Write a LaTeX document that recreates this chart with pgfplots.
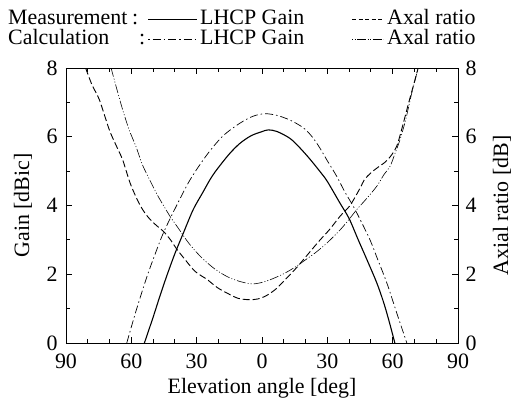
\documentclass[border=0pt]{standalone}
\usepackage{pgfplots}
\pgfplotsset{compat=1.18}
\usepackage{fontspec}
\setmainfont{Liberation Serif}
\newcommand{\bigf}{\fontsize{22}{25}\selectfont}
\begin{document}
\begin{tikzpicture}
\useasboundingbox (-66bp,-62bp) rectangle (459bp,343bp);
\pgfplotsset{
  common/.style={
    scale only axis, width=392bp, height=275bp,
    at={(0,0)}, anchor=south west,
    xmin=-90, xmax=90, ymin=0, ymax=8,
    tick align=inside,
    major tick length=6bp, minor tick length=4bp,
    every tick/.style={black, line width=0.8pt},
    axis line style={line width=1pt},
    tick label style={font=\bigf},
    label style={font=\bigf},
    /pgf/number format/assume math mode=true,
    ytick={0,2,4,6,8}, minor ytick={1,3,5,7},
  }
}
\begin{axis}[common,
  xtick={-90,-60,-30,0,30,60,90},
  xticklabels={90,60,30,0,30,60,90},
  minor xtick={-80,-70,-50,-40,-20,-10,10,20,40,50,70,80},
  xtick pos=both, ytick pos=left,
  xlabel={Elevation angle [deg]},
  ylabel={Gain [dBic]},
  xticklabel style={yshift=-7bp},
  yticklabel style={xshift=-5bp},
  xlabel style={yshift=-3bp},
  ylabel style={at={(rel axis cs:-0.11,0.5)}, anchor=center},
]
% Measurement LHCP gain
\addplot[black, line width=1.1pt, smooth] coordinates {
(-54,0) (-50,0.75) (-46.9,1.36) (-43.8,1.94) (-40,2.6) (-36.1,3.2) (-31.6,3.88) (-27,4.4) (-23.9,4.75) (-20.8,5.04) (-15,5.5) (-10.1,5.81) (-5,6.03) (0,6.15) (3,6.2) (7,6.15) (12.9,5.95) (17.5,5.67) (22,5.35) (26.6,4.99) (30,4.7) (35.8,4.07) (40,3.62) (44.2,3.0) (48,2.45) (52.7,1.75) (56,1.15) (58.5,0.6) (61,0)
};
% Calculation LHCP gain
\addplot[black, line width=0.7pt, smooth, dash pattern=on 8bp off 3bp on 1.5bp off 3bp] coordinates {
(-62.1,0) (-58,0.9) (-53,1.9) (-49,2.6) (-45.3,3.2) (-40,3.9) (-33,4.75) (-25,5.5) (-17.8,6.03) (-10,6.4) (-4,6.6) (1.4,6.67) (7,6.62) (13,6.48) (19,6.26) (23,6.0) (26.6,5.67) (30,5.3) (34.3,4.85) (38,4.4) (41.9,3.98) (45,3.6) (49.6,3.0) (53,2.45) (57.3,1.75) (62,0.85) (66.5,0)
};
\end{axis}
\begin{axis}[common,
  axis x line=none, axis y line*=right,
  ylabel={Axial ratio [dB]},
  yticklabel style={xshift=4bp},
  ylabel style={at={(rel axis cs:1.112,0.5)}, anchor=center},
]
% Measurement axial ratio
\addplot[black, line width=0.9pt, smooth, dash pattern=on 7bp off 3bp] coordinates {
(-81,8) (-78,7.5) (-74.7,7.08) (-70.1,6.2) (-67,5.75) (-64,5.33) (-60.6,4.66) (-57.5,4.2) (-54.8,3.88) (-52,3.64) (-48.5,3.42) (-45.3,3.25) (-42,3.0) (-39,2.72) (-35,2.4) (-31,2.1) (-27.5,1.94) (-25.4,1.86) (-20.7,1.62) (-16,1.45) (-11,1.3) (-6,1.26) (-2,1.28) (1.5,1.36) (6,1.55) (10,1.8) (16,2.2) (20,2.5) (26,2.95) (31,3.3) (36,3.7) (40.4,4.0) (45,4.5) (47,4.75) (50,4.95) (53,5.1) (56.7,5.27) (59.6,5.48) (62,5.75) (64.5,6.3) (67.4,7.0) (70,7.6) (71.7,8)
};
% Calculation axial ratio
\addplot[black, line width=0.6pt, smooth, dash pattern=on 9bp off 2bp on 1bp off 2bp on 1bp off 2bp] coordinates {
(-69.3,8) (-66.5,7.35) (-64,6.79) (-61,6.2) (-57.9,5.72) (-55,5.2) (-52,4.8) (-48,4.3) (-44.1,3.88) (-42.3,3.69) (-38,3.3) (-33.7,2.91) (-28,2.5) (-21.4,2.14) (-15,1.9) (-9,1.77) (-3.8,1.72) (2,1.8) (9.2,1.99) (15,2.2) (20,2.42) (25,2.65) (30,2.92) (36,3.3) (40,3.6) (43.5,3.88) (48,4.2) (52.7,4.56) (56,4.9) (58.8,5.14) (61,5.5) (63.4,5.92) (66,6.5) (68.5,7.2) (71.7,8)
};
\end{axis}
% legend
\node[font=\bigf, anchor=base west, inner sep=0] at (-58bp,318bp) {Measurement};
\node[font=\bigf, anchor=base west, inner sep=0] at (-58bp,298bp) {Calculation};
\node[font=\bigf, anchor=base west, inner sep=0] at (66bp,318bp) {:};
\node[font=\bigf, anchor=base west, inner sep=0] at (73bp,298bp) {:};
\draw[line width=0.9pt] (82bp,324bp) -- (131bp,324bp);
\node[font=\bigf, anchor=base west, inner sep=0] at (134bp,318bp) {LHCP Gain};
\draw[line width=0.8pt, dash pattern=on 4bp off 2.5bp] (286bp,324bp) -- (317bp,324bp);
\node[font=\bigf, anchor=base west, inner sep=0] at (321bp,318bp) {Axal ratio};
\draw[line width=0.7pt, dash pattern=on 1.5bp off 3bp on 8bp off 3bp] (82bp,304bp) -- (131bp,304bp);
\node[font=\bigf, anchor=base west, inner sep=0] at (134bp,298bp) {LHCP Gain};
\draw[line width=0.6pt, dash pattern=on 1bp off 1.5bp on 1bp off 1.5bp on 9bp off 1.5bp] (286bp,304bp) -- (317bp,304bp);
\node[font=\bigf, anchor=base west, inner sep=0] at (321bp,298bp) {Axal ratio};
\end{tikzpicture}
\end{document}
